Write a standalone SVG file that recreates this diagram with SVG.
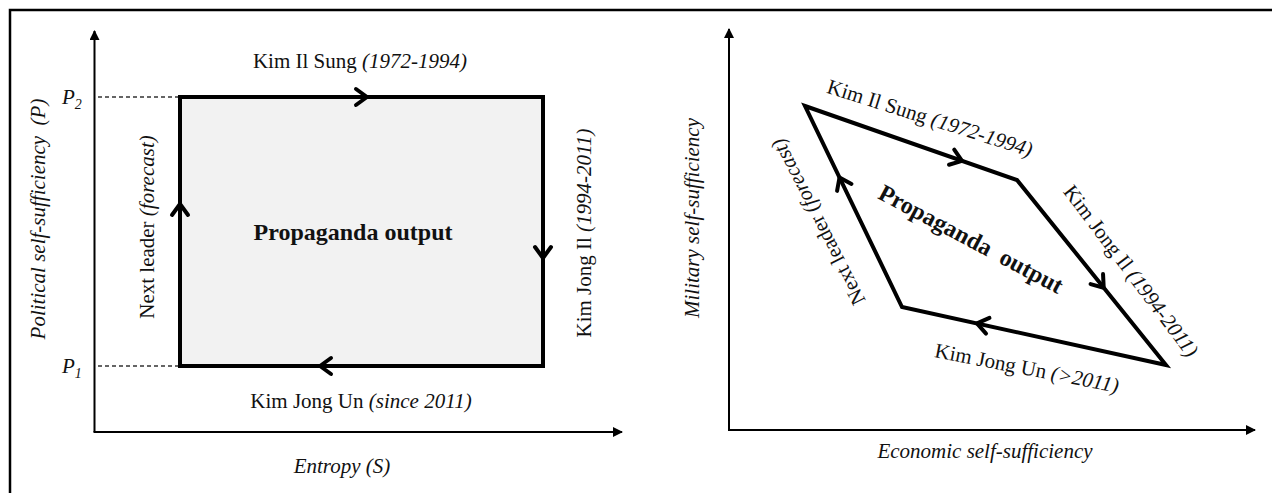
<svg xmlns="http://www.w3.org/2000/svg" width="1272" height="493" viewBox="0 0 1272 493">
<style>
.t{font-family:"Liberation Serif","Times New Roman",serif;font-size:21px;fill:#111}
.i{font-style:italic}
.b{font-weight:bold;font-size:24px}
.ax{stroke:#000;stroke-width:2;fill:none}
.cyc{stroke:#000;stroke-width:4;stroke-linejoin:miter}
.chev{fill:none;stroke:#000;stroke-width:4;stroke-linecap:round;stroke-linejoin:round}
.dash{stroke:#333;stroke-width:1.3;stroke-dasharray:4,3}
</style>
<defs>
<marker id="ah" viewBox="0 0 10 10" refX="9" refY="5" markerWidth="5" markerHeight="5" orient="auto" markerUnits="strokeWidth">
<path d="M0,0 L10,5 L0,10 Z" fill="#000"/>
</marker>
<path id="chev" d="M-11,-8 L0,0 L-11,8"/>
</defs>
<rect width="1272" height="493" fill="#fff"/>
<path d="M10,493 V10 H1272" fill="none" stroke="#000" stroke-width="2.5"/>

<g id="left-axes">
<line class="ax" x1="94.5" y1="432" x2="94.5" y2="31" marker-end="url(#ah)"/>
<line class="ax" x1="93.5" y1="432" x2="622" y2="432" marker-end="url(#ah)"/>
<line class="dash" x1="98" y1="97" x2="178" y2="97"/>
<line class="dash" x1="98" y1="366" x2="178" y2="366"/>
<text class="t i" x="62" y="104">P<tspan font-size="14" dy="5">2</tspan></text>
<text class="t i" x="62" y="373">P<tspan font-size="14" dy="5">1</tspan></text>
<text class="t i" transform="translate(38,219) rotate(-90)" text-anchor="middle" dominant-baseline="central" xml:space="preserve">Political self-sufficiency  (P)</text>
<text class="t i" x="342" y="473" text-anchor="middle">Entropy (S)</text>
</g>

<g id="left-cycle">
<rect class="cyc" x="180" y="97" width="363" height="269" fill="#f2f2f2"/>
<text class="t b" x="353" y="240" text-anchor="middle">Propaganda output</text>
</g>

<g id="left-labels">
<text class="t" x="360" y="68" text-anchor="middle">Kim Il Sung <tspan class="i">(1972-1994)</tspan></text>
<text class="t" transform="translate(584,233) rotate(-90)" text-anchor="middle" dominant-baseline="central">Kim Jong Il <tspan class="i">(1994-2011)</tspan></text>
<text class="t" x="361" y="408" text-anchor="middle">Kim Jong Un <tspan class="i">(since 2011)</tspan></text>
<text class="t" transform="translate(147,227) rotate(-90)" text-anchor="middle" dominant-baseline="central">Next leader <tspan class="i">(forecast)</tspan></text>
</g>

<g id="right-axes">
<line class="ax" x1="729" y1="430" x2="729" y2="29" marker-end="url(#ah)"/>
<line class="ax" x1="728" y1="430" x2="1255" y2="430" marker-end="url(#ah)"/>
<text class="t i" transform="translate(692,218) rotate(-90)" text-anchor="middle" dominant-baseline="central">Military self-sufficiency</text>
<text class="t i" x="985" y="458" text-anchor="middle">Economic self-sufficiency</text>
</g>

<g id="right-cycle">
<polygon class="cyc" points="805,106 1017,180 1166,365 902,307" fill="none"/>
<text class="t b" transform="translate(971,239) rotate(28)" text-anchor="middle" dominant-baseline="central" xml:space="preserve">Propaganda  output</text>
</g>

<g id="right-labels">
<text class="t" transform="translate(930,118) rotate(17.5)" text-anchor="middle" dominant-baseline="central">Kim Il Sung <tspan class="i">(1972-1994)</tspan></text>
<text class="t" transform="translate(1131,271) rotate(53)" text-anchor="middle" dominant-baseline="central">Kim Jong Il <tspan class="i">(1994-2011)</tspan></text>
<text class="t" transform="translate(1027,368) rotate(11)" text-anchor="middle" dominant-baseline="central">Kim Jong Un <tspan class="i">(&gt;2011)</tspan></text>
<text class="t" transform="translate(818,222) rotate(-117)" text-anchor="middle" dominant-baseline="central">Next leader <tspan class="i">(forecast)</tspan></text>
</g>

<g id="connectors">
<use href="#chev" class="chev" transform="translate(367,97)"/>
<use href="#chev" class="chev" transform="translate(543,258) rotate(90)"/>
<use href="#chev" class="chev" transform="translate(320,366) rotate(180)"/>
<use href="#chev" class="chev" transform="translate(180,204) rotate(-90)"/>
<use href="#chev" class="chev" transform="translate(962,160.8) rotate(19.2)"/>
<use href="#chev" class="chev" transform="translate(1103.7,287.7) rotate(51.2)"/>
<use href="#chev" class="chev" transform="translate(977,323.4) rotate(192.4)"/>
<use href="#chev" class="chev" transform="translate(839.5,177.5) rotate(244.2)"/>
</g>
</svg>
